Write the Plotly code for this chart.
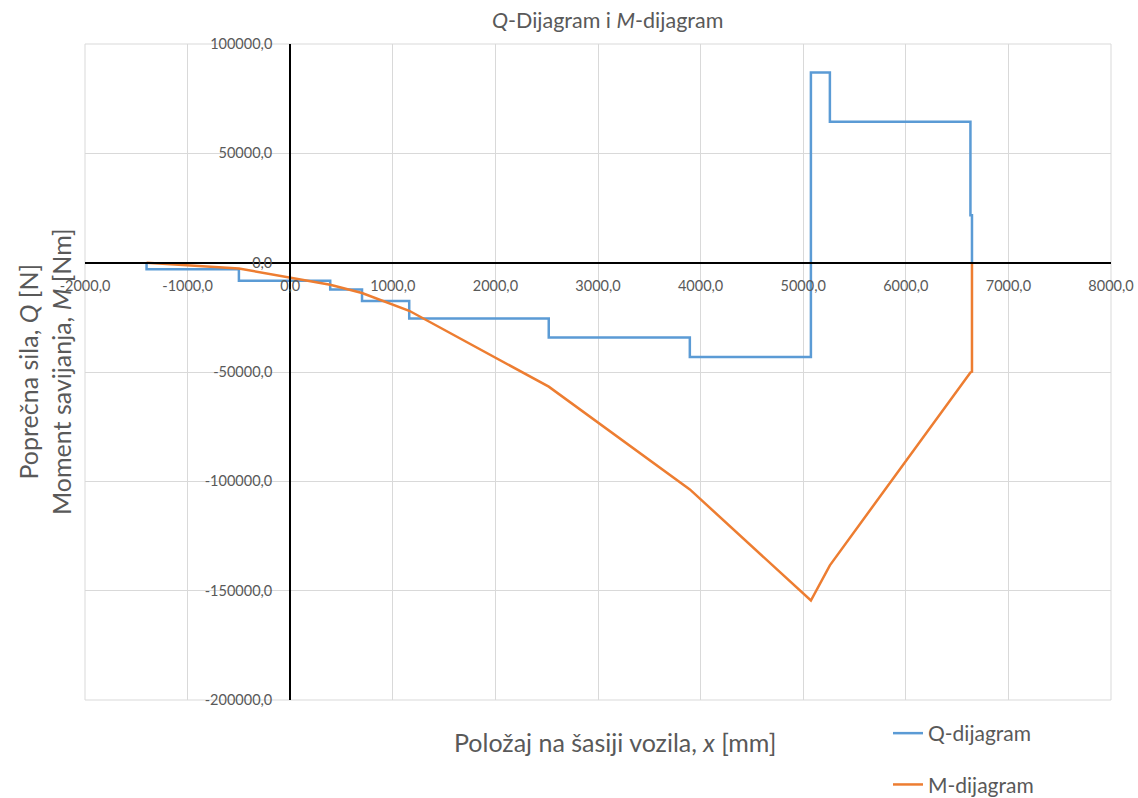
import plotly.graph_objects as go

# Shear force Q along the chassis (step function), x in mm, Q in N
q_x = [-1400, -1400, -500, -500, 390, 390, 700, 700, 1160, 1160, 2520, 2520,
       3895, 3895, 5075, 5075, 5260, 5260, 6630, 6630, 6645, 6645]
q_val = [0, -3000, -3000, -8300, -8300, -12300, -12300, -17500, -17500, -25500,
         -25500, -34200, -34200, -43100, -43100, 87000, 87000, 64400, 64400,
         21700, 21700, 0]

# Bending moment M along the chassis, in Nm
m_x = [-1400, -500, 390, 700, 1160, 2520, 3895, 5075, 5260, 6630, 6645, 6645]
m_val = [0, -2700, -10100, -13900, -22000, -56700, -103700, -154500, -138400,
         -50200, -49900, 0]

# Axis ticks
x_ticks = [-2000, -1000, 0, 1000, 2000, 3000, 4000, 5000, 6000, 7000, 8000]
x_tick_text = ["-2000,0", "-1000,0", "0,0", "1000,0", "2000,0", "3000,0",
               "4000,0", "5000,0", "6000,0", "7000,0", "8000,0"]
y_ticks = [100000, 50000, 0, -50000, -100000, -150000, -200000]
y_tick_text = ["100000,0", "50000,0", "0,0", "-50000,0", "-100000,0",
               "-150000,0", "-200000,0"]

FONT = "Lato"
GREY = "#595959"
GRID = "#D9D9D9"

fig = go.Figure()
fig.add_trace(go.Scatter(x=q_x, y=q_val, mode="lines", name="Q-dijagram",
                         legendgroup="q",
                         line=dict(color="#5B9BD5", width=2.5)))
fig.add_trace(go.Scatter(x=m_x, y=m_val, mode="lines", name="M-dijagram",
                         legendgroup="m",
                         line=dict(color="#ED7D31", width=2.5)))

L, R, T, B = 85, 27, 44, 98
W, H = 1138, 798
pw, ph = W - L - R, H - T - B

def px_x(p):
    return (p - L) / pw

def px_y(p):
    return (H - B - p) / ph

fig.update_layout(
    width=W, height=H,
    margin=dict(l=L, r=R, t=T, b=B, autoexpand=False),
    paper_bgcolor="white", plot_bgcolor="white",
    font=dict(family=FONT, color=GREY, size=14),
    showlegend=True,
    legend=dict(x=px_x(888), y=px_y(713), xanchor="left", yanchor="top",
                font=dict(size=21, color=GREY, family=FONT),
                tracegroupgap=21, bgcolor="rgba(0,0,0,0)"),
    xaxis=dict(range=[-2000, 8000], tickvals=x_ticks, ticktext=x_tick_text,
               showgrid=True, gridcolor=GRID, gridwidth=1,
               zeroline=False, showline=True, linecolor="black", linewidth=2,
               anchor="free", position=2 / 3, ticks="",
               ticklabelstandoff=10,
               tickfont=dict(size=14.5, color=GREY, family=FONT)),
    yaxis=dict(range=[-200000, 100000], tickvals=y_ticks, ticktext=y_tick_text,
               showgrid=True, gridcolor=GRID, gridwidth=1,
               zeroline=False, showline=True, linecolor="black", linewidth=2,
               anchor="free", position=0.2, ticks="",
               ticklabelstandoff=14,
               tickfont=dict(size=14.5, color=GREY, family=FONT)),
)

# Light frame around the plotting area
fig.add_shape(type="rect", xref="paper", yref="paper", x0=0, y0=0, x1=1, y1=1,
              line=dict(color=GRID, width=1), layer="below")

fig.add_annotation(text="<i>Q</i>-Dijagram i <i>M</i>-dijagram",
                   xref="paper", yref="paper", x=px_x(607), y=px_y(20),
                   xanchor="center", yanchor="middle", showarrow=False,
                   font=dict(size=21.5, color=GREY, family=FONT))
fig.add_annotation(text="Poprečna sila, <i>Q</i> [N]<br>Moment savijanja, <i>M</i> [Nm]",
                   xref="paper", yref="paper", x=px_x(44), y=0.5,
                   xanchor="center", yanchor="middle", textangle=-90,
                   showarrow=False,
                   font=dict(size=25, color=GREY, family=FONT))
fig.add_annotation(text="Položaj na šasiji vozila, <i>x</i> [mm]",
                   xref="paper", yref="paper", x=px_x(615), y=px_y(742),
                   xanchor="center", yanchor="middle", showarrow=False,
                   font=dict(size=25, color=GREY, family=FONT))

fig.write_html("out.html")
